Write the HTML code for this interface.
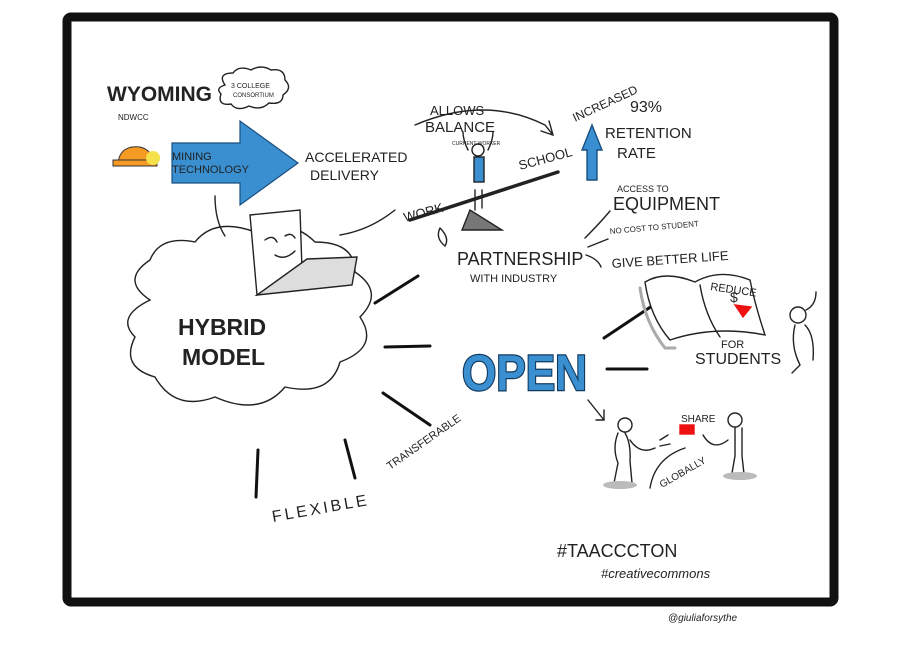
<!DOCTYPE html>
<html><head><meta charset="utf-8"><style>
html,body{margin:0;padding:0;background:#fff;}
svg{display:block}
text{font-family:"Liberation Sans",sans-serif;fill:#222}
</style></head><body>
<svg width="900" height="650" viewBox="0 0 900 650" xmlns="http://www.w3.org/2000/svg">
<rect x="0" y="0" width="900" height="650" fill="#fff"/>
<rect x="67" y="17" width="767" height="585" fill="#fff" stroke="#111" stroke-width="9" rx="4"/>
<g stroke="#222" fill="none" stroke-width="1.4" stroke-linecap="round">
<path d="M225 85 q-8 -12 8 -12 q6 -8 18 -3 q10 -6 20 0 q14 -2 14 10 q8 8 -2 15 q0 10 -14 8 q-8 8 -20 3 q-12 6 -18 -2 q-14 2 -10 -10 q-6 -6 4 -9z"/>
<path d="M150 300 q-30 -20 0 -40 q10 -25 45 -18 q20 -25 60 -10 q35 -15 60 10 q40 0 40 30 q30 20 5 45 q20 30 -20 45 q-10 35 -55 25 q-25 30 -70 10 q-40 15 -60 -20 q-35 -10 -20 -40 q-20 -20 15 -37z"/>
<path d="M250 215 l50 -5 l2 60 l-45 25 z" fill="#fff"/>
<path d="M257 295 l95 -10 l5 -28 l-50 2 z" fill="#ddd"/>
<path d="M265 240 q8 -6 12 2 M285 236 q6 -4 10 2 M275 255 q10 6 20 -4"/>
<path d="M215 196 q0 25 10 40"/>
<path d="M340 235 q30 -5 55 -25"/>
<path d="M415 125 q70 -30 130 0 l8 10 m-4 -14 l4 14 l-12 -4"/>
<line x1="410" y1="220" x2="558" y2="172" stroke-width="3.5"/>
<path d="M470 210 l-8 20 h40 z" fill="#777"/>
<circle cx="478" cy="150" r="6" fill="#fff"/>
<path d="M468 150 q-5 -10 -5 -18 M488 150 q5 -10 5 -18 M475 190 v20 M482 190 v18"/>
<rect x="474" y="157" width="10" height="25" fill="#3a8fd0"/>
<path d="M440 228 q-5 10 5 18 q5 -8 -5 -18"/>
<path d="M585 238 q15 -15 25 -27 M588 247 l20 -8 M586 255 q12 4 15 12"/>
<path d="M582 150 l10 -25 l10 25 h-5 v30 h-10 v-30z" fill="#3a8fd0" stroke="#1a4f80"/>
<g stroke-width="3" stroke="#111">
<line x1="375" y1="303" x2="418" y2="276"/>
<line x1="385" y1="347" x2="430" y2="346"/>
<line x1="383" y1="393" x2="430" y2="425"/>
<line x1="345" y1="440" x2="355" y2="478"/>
<line x1="258" y1="450" x2="256" y2="497"/>
<line x1="604" y1="338" x2="652" y2="306"/>
<line x1="607" y1="369" x2="647" y2="369"/>
</g>
<path d="M588 400 l16 20 m0 -10 v10 h-8"/>
<path d="M645 282 q5 35 25 58 q45 -15 95 -5 q-10 -30 -15 -55 q-30 -12 -55 2 q-30 -12 -50 0z" fill="#fff"/>
<path d="M700 285 q5 30 20 52" />
<path d="M640 288 q5 35 25 60 l10 0" stroke="#aaa" stroke-width="3"/>
<path d="M735 305 l8 12 l8 -10 z" fill="#e11" stroke="#e11"/>
<circle cx="798" cy="315" r="8" fill="#fff"/>
<path d="M795 325 q-5 20 5 40 l-8 8 M805 325 q10 10 8 35 M806 310 q10 -5 10 -18"/>
<circle cx="625" cy="425" r="7" fill="#fff"/>
<path d="M618 433 q-6 15 0 30 l-4 20 M625 433 q6 10 5 28 l2 22 M630 440 q10 15 25 8"/>
<circle cx="735" cy="420" r="7" fill="#fff"/>
<path d="M735 428 v28 l-3 17 M742 428 v28 l2 18 M728 440 q-15 12 -25 -5"/>
<rect x="680" y="425" width="14" height="9" fill="#e11" stroke="#e11"/>
<path d="M650 488 q5 -30 35 -40 M660 440 l8 -5 M660 446 l10 -2"/>
</g>
<ellipse cx="620" cy="485" rx="17" ry="4" fill="#bbb"/>
<ellipse cx="740" cy="476" rx="17" ry="4" fill="#bbb"/>
<path d="M172 143 h68 v-22 l58 42 l-58 42 v-22 h-68z" fill="#3a8fd0" stroke="#1a4f80" stroke-width="1.2"/>
<path d="M118 163 q2 -18 22 -16 q12 3 12 14 z" fill="#f59a23" stroke="#333"/>
<rect x="113" y="160" width="44" height="6" fill="#f59a23" stroke="#333"/>
<circle cx="153" cy="158" r="7" fill="#f5e14a"/>
<text x="107" y="101" font-size="21" font-weight="bold">WYOMING</text>
<text x="118" y="120" font-size="8">NDWCC</text>
<text x="231" y="88" font-size="7">3 COLLEGE</text>
<text x="233" y="97" font-size="6">CONSORTIUM</text>
<text x="172" y="160" font-size="11">MINING</text>
<text x="172" y="173" font-size="11">TECHNOLOGY</text>
<text x="305" y="162" font-size="14">ACCELERATED</text>
<text x="310" y="180" font-size="14">DELIVERY</text>
<text x="430" y="115" font-size="13">ALLOWS</text>
<text x="425" y="132" font-size="15">BALANCE</text>
<text x="452" y="145" font-size="5">CURRENT WORKER</text>
<text x="520" y="170" font-size="13" transform="rotate(-15 520 170)">SCHOOL</text>
<text x="405" y="222" font-size="13" transform="rotate(-15 405 222)">WORK</text>
<text x="575" y="122" font-size="12" transform="rotate(-25 575 122)">INCREASED</text>
<text x="630" y="112" font-size="16">93%</text>
<text x="605" y="138" font-size="15">RETENTION</text>
<text x="617" y="158" font-size="15">RATE</text>
<text x="617" y="192" font-size="9">ACCESS TO</text>
<text x="613" y="210" font-size="18">EQUIPMENT</text>
<text x="610" y="234" font-size="8" transform="rotate(-5 610 234)">NO COST TO STUDENT</text>
<text x="612" y="268" font-size="13" transform="rotate(-4 612 268)">GIVE BETTER LIFE</text>
<text x="457" y="265" font-size="18">PARTNERSHIP</text>
<text x="470" y="282" font-size="11">WITH INDUSTRY</text>
<text x="178" y="335" font-size="23" font-weight="bold">HYBRID</text>
<text x="182" y="365" font-size="23" font-weight="bold">MODEL</text>
<text x="462" y="390" font-size="50" font-weight="bold" style="fill:#3a8fd0;stroke:#12395e;stroke-width:2.5;paint-order:stroke" textLength="125" lengthAdjust="spacingAndGlyphs">OPEN</text>
<text x="710" y="290" font-size="11" transform="rotate(8 710 290)">REDUCE</text>
<text x="730" y="302" font-size="14">$</text>
<text x="721" y="348" font-size="11">FOR</text>
<text x="695" y="364" font-size="16">STUDENTS</text>
<text x="681" y="422" font-size="10">SHARE</text>
<text x="662" y="488" font-size="10" transform="rotate(-30 662 488)">GLOBALLY</text>
<text x="390" y="470" font-size="11" transform="rotate(-35 390 470)">TRANSFERABLE</text>
<text x="273" y="522" font-size="16" transform="rotate(-10 273 522)" letter-spacing="3">FLEXIBLE</text>
<text x="557" y="557" font-size="18">#TAACCCTON</text>
<text x="601" y="578" font-size="13" font-style="italic">#creativecommons</text>
<text x="668" y="621" font-size="10" font-style="italic">@giuliaforsythe</text>
</svg>
</body></html>
